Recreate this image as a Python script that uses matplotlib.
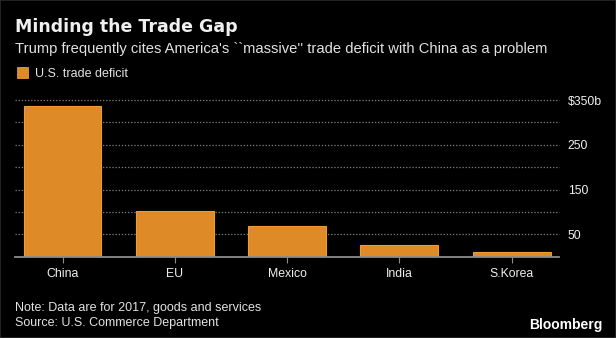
import matplotlib
matplotlib.use("Agg")
import matplotlib.pyplot as plt
from matplotlib.patches import Rectangle

# Data: U.S. trade deficit by partner, 2017 (billions of dollars)
partners = ["China", "EU", "Mexico", "India", "S.Korea"]
deficit = [337, 101, 69, 27, 10]
grid_values = [50, 100, 150, 200, 250, 300, 350]
tick_values = [50, 150, 250, 350]
tick_labels = ["50", "150", "250", "$350b"]

title = "Minding the Trade Gap"
subtitle = "Trump frequently cites America's ``massive'' trade deficit with China as a problem"
legend_label = "U.S. trade deficit"
note = "Note: Data are for 2017, goods and services"
source = "Source: U.S. Commerce Department"
brand = "Bloomberg"

FONT = "Liberation Sans"

BG = "#000000"
BAR = "#DE8A26"
BAR_EDGE = "#F09A30"
TXT = "#F0F0F0"
SUB = "#E2E2E2"
GRID = "#7A7A7A"
AXIS = "#8C8C8C"

W, H = 616, 338
fig = plt.figure(figsize=(W / 100, H / 100), dpi=100, facecolor=BG)

# plot area in pixel coordinates
left_px, right_px = 15, 558.7
bottom_px, top_px = 256.7, 100.0
ax = fig.add_axes([left_px / W, 1 - bottom_px / H,
                   (right_px - left_px) / W, (bottom_px - top_px) / H])
ax.set_facecolor(BG)
ax.set_ylim(0, 350)
ax.set_xlim(-0.423, 4.418)

for v in grid_values:
    ax.axhline(v, color=GRID, lw=0.9, ls=(0, (1.1, 1.4)), zorder=1, clip_on=False)

x = list(range(len(partners)))
ax.bar(x, deficit, width=0.694, color=BAR, edgecolor=BAR_EDGE, linewidth=0.8, zorder=2)
ax.axhline(0, color=AXIS, lw=1.3, zorder=3, clip_on=False)

for s in ax.spines.values():
    s.set_visible(False)

ax.set_xticks(x)
ax.set_xticklabels(partners, fontsize=8.8, color=TXT, family=FONT)
ax.tick_params(axis="x", length=4, width=0.8, color=AXIS, pad=4)

ax.yaxis.tick_right()
ax.set_yticks(tick_values)
ax.set_yticklabels(tick_labels, fontsize=8.8, color=TXT, family=FONT)
ax.tick_params(axis="y", length=0, pad=6.5)

# header
fig.text(15 / W, 1 - 31.7 / H, title, fontsize=12.5, fontweight="bold",
         color=TXT, family="DejaVu Sans", va="baseline", ha="left")
fig.text(15 / W, 1 - 53 / H, subtitle, fontsize=10.6, color=SUB,
         family=FONT, va="baseline", ha="left")

# legend swatch
fig.patches.append(Rectangle((16.5 / W, 1 - 78.3 / H), 11.5 / W, 11.5 / H,
                             transform=fig.transFigure, facecolor=BAR,
                             edgecolor=BAR_EDGE, linewidth=0.6))
fig.text(35 / W, 1 - 76.7 / H, legend_label, fontsize=9.0, color=SUB,
         family=FONT, va="baseline", ha="left")

# footer
fig.text(15 / W, 1 - 311 / H, note, fontsize=9.0, color=SUB,
         family=FONT, va="baseline", ha="left")
fig.text(15 / W, 1 - 326 / H, source, fontsize=9.0, color=SUB,
         family=FONT, va="baseline", ha="left")
fig.text(602 / W, 1 - 328.5 / H, brand, fontsize=10, fontweight="bold",
         color="#FFFFFF", family="Liberation Sans", va="baseline", ha="right")

# thin frame around the graphic
fig.patches.append(Rectangle((0, 0), 1, 1, transform=fig.transFigure,
                             fill=False, edgecolor="#2A2A2A", linewidth=1.2))

fig.savefig("out.png", dpi=100, facecolor=BG)
